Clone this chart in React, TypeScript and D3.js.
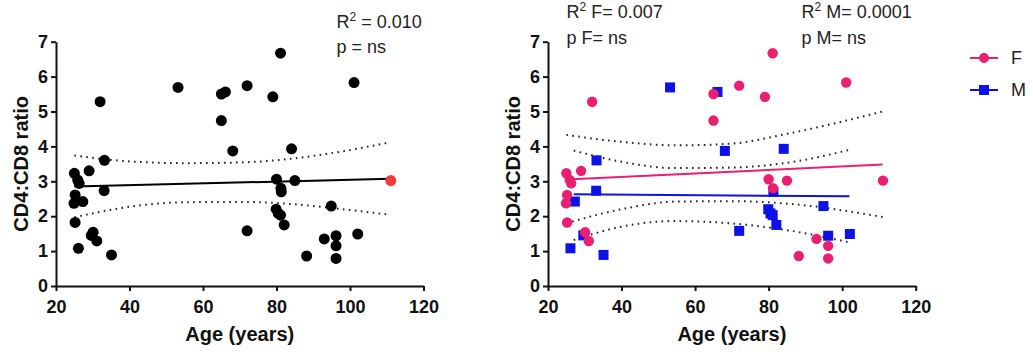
import React, { useEffect, useRef } from "react";
import * as d3 from "d3";

// [age, CD4:CD8 ratio]
const female: [number, number][] = [
  [25, 3.23], [25.9, 3.04], [26.3, 2.94], [25.2, 2.61], [24.9, 2.37], [25.2, 1.82],
  [29, 3.3], [32, 5.28], [30.1, 1.54], [31.1, 1.29], [65, 5.5], [65, 4.74],
  [72, 5.74], [79, 5.42], [81.1, 6.67], [80, 3.06], [81.2, 2.8], [85, 3.02],
  [88.2, 0.86], [93, 1.35], [96.2, 1.15], [96.2, 0.79], [101.1, 5.83], [111.1, 3.02],
];
const male: [number, number][] = [
  [27.3, 2.42], [26.1, 1.08], [33.2, 3.6], [33.1, 2.73], [35.1, 0.89], [29.6, 1.45],
  [53.2, 5.69], [66.1, 5.56], [68.1, 3.87], [72, 1.58], [79.9, 2.2], [80.5, 2.08],
  [81.1, 2.03], [81.3, 2.7], [82.1, 1.75], [84.1, 3.93], [94.9, 2.29], [96.2, 1.44],
  [102.1, 1.49],
];
const oldestAge = 111.1;

// fitted lines and 95% bands, read as points
const allFit: [number, number][] = [[25, 2.85], [111, 3.07]];
const allUpper: [number, number][] = [[25, 3.74], [40, 3.57], [55, 3.52], [70, 3.54], [85, 3.66], [98, 3.86], [111, 4.12]];
const allLower: [number, number][] = [[25, 1.97], [40, 2.27], [55, 2.4], [70, 2.41], [85, 2.34], [98, 2.2], [111, 2.04]];

const femaleFit: [number, number][] = [[25, 3.05], [111, 3.48]];
const femaleUpper: [number, number][] = [[25, 4.33], [40, 4.13], [55, 4.03], [70, 4.08], [85, 4.36], [111, 5.0]];
const femaleLower: [number, number][] = [[25, 1.8], [40, 2.2], [55, 2.42], [70, 2.43], [85, 2.36], [111, 1.98]];

const maleFit: [number, number][] = [[27, 2.63], [102, 2.57]];
const maleUpper: [number, number][] = [[27, 3.88], [40, 3.56], [54, 3.38], [68, 3.39], [85, 3.53], [102, 3.9]];
const maleLower: [number, number][] = [[27, 1.32], [40, 1.7], [54, 1.86], [68, 1.81], [85, 1.6], [102, 1.25]];

const xTicks = [20, 40, 60, 80, 100, 120];
const yTicks = [0, 1, 2, 3, 4, 5, 6, 7];

const FONT = "'Liberation Sans', Arial, sans-serif";
const PINK = "#EA1F6F";
const BLUE = "#0E10E8";
const RED = "#F23A3A";

const width = 1033;
const height = 355;
const yTop = 41.7;
const yBottom = 286;

function drawPanel(svg, x0: number, x1: number) {
  const x = d3.scaleLinear().domain([20, 120]).range([x0, x1]);
  const y = d3.scaleLinear().domain([0, 7]).range([yBottom, yTop]);

  svg
    .append("g")
    .attr("transform", `translate(0,${yBottom})`)
    .call(d3.axisBottom(x).tickValues(xTicks).tickSize(5).tickSizeOuter(0).tickPadding(9))
    .call((g) => g.selectAll("path,line").attr("stroke", "#111").attr("stroke-width", 2))
    .selectAll("text")
    .attr("fill", "#111")
    .style("font-family", FONT)
    .style("font-size", "18px")
    .style("font-weight", "bold");

  svg
    .append("g")
    .attr("transform", `translate(${x0},0)`)
    .call(
      d3
        .axisLeft(y)
        .tickValues(yTicks)
        .tickFormat(d3.format("d"))
        .tickSize(5)
        .tickSizeOuter(0)
        .tickPadding(3),
    )
    .call((g) => g.selectAll("path,line").attr("stroke", "#111").attr("stroke-width", 2))
    .selectAll("text")
    .attr("fill", "#111")
    .style("font-family", FONT)
    .style("font-size", "18px")
    .style("font-weight", "bold");

  svg
    .append("text")
    .attr("x", (x0 + x1) / 2)
    .attr("y", 341)
    .attr("text-anchor", "middle")
    .attr("fill", "#111")
    .style("font-family", FONT)
    .style("font-size", "20px")
    .style("font-weight", "bold")
    .text("Age (years)");

  svg
    .append("text")
    .attr("transform", `translate(${x0 - 28},${(yTop + yBottom) / 2}) rotate(-90)`)
    .attr("text-anchor", "middle")
    .attr("fill", "#111")
    .style("font-family", FONT)
    .style("font-size", "20px")
    .style("font-weight", "bold")
    .text("CD4:CD8 ratio");

  return { x, y };
}

function annotation(svg, xPos: number, yPos: number, pre: string, rest: string) {
  const t = svg
    .append("text")
    .attr("x", xPos)
    .attr("y", yPos)
    .attr("fill", "#222")
    .style("font-family", FONT)
    .style("font-size", "18px");
  t.append("tspan").text(pre);
  t.append("tspan").attr("dy", -7).style("font-size", "12px").text("2");
  t.append("tspan").attr("dy", 7).text(rest);
}

function plainText(svg, xPos: number, yPos: number, s: string) {
  svg
    .append("text")
    .attr("x", xPos)
    .attr("y", yPos)
    .attr("fill", "#222")
    .style("font-family", FONT)
    .style("font-size", "18px")
    .text(s);
}

const App = () => {
  const svgRef = useRef(null);

  useEffect(() => {
    if (!svgRef.current) return;
    const svg = d3.select(svgRef.current);
    svg.selectAll("*").remove();

    const dotted = (g, pts, x, y) =>
      g
        .append("path")
        .datum(pts)
        .attr("fill", "none")
        .attr("stroke", "#222")
        .attr("stroke-width", 2)
        .attr("stroke-dasharray", "1.6,4.4")
        .attr(
          "d",
          d3
            .line()
            .x((d) => x(d[0]))
            .y((d) => y(d[1]))
            .curve(d3.curveMonotoneX),
        );

    const solid = (g, pts, x, y, color) =>
      g
        .append("path")
        .datum(pts)
        .attr("fill", "none")
        .attr("stroke", color)
        .attr("stroke-width", 2)
        .attr(
          "d",
          d3
            .line()
            .x((d) => x(d[0]))
            .y((d) => y(d[1])),
        );

    // left panel: everyone
    const L = drawPanel(svg, 56, 423.5);
    const all = [...female, ...male];
    dotted(svg, allUpper, L.x, L.y);
    dotted(svg, allLower, L.x, L.y);
    svg
      .append("g")
      .selectAll("circle")
      .data(all.filter((d) => d[0] !== oldestAge))
      .join("circle")
      .attr("cx", (d) => L.x(d[0]))
      .attr("cy", (d) => L.y(d[1]))
      .attr("r", 5.5)
      .attr("fill", "#000");
    solid(svg, allFit, L.x, L.y, "#000");
    svg
      .append("g")
      .selectAll("circle")
      .data(all.filter((d) => d[0] === oldestAge))
      .join("circle")
      .attr("cx", (d) => L.x(d[0]))
      .attr("cy", (d) => L.y(d[1]))
      .attr("r", 5.5)
      .attr("fill", RED);

    annotation(svg, 336.5, 28, "R", " = 0.010");
    plainText(svg, 336.5, 53, "p = ns");

    // right panel: by sex
    const R = drawPanel(svg, 548, 915.7);
    dotted(svg, femaleUpper, R.x, R.y);
    dotted(svg, femaleLower, R.x, R.y);
    dotted(svg, maleUpper, R.x, R.y);
    dotted(svg, maleLower, R.x, R.y);

    svg
      .append("g")
      .selectAll("rect")
      .data(male)
      .join("rect")
      .attr("x", (d) => R.x(d[0]) - 5)
      .attr("y", (d) => R.y(d[1]) - 5)
      .attr("width", 10)
      .attr("height", 10)
      .attr("fill", BLUE);
    svg
      .append("g")
      .selectAll("circle")
      .data(female)
      .join("circle")
      .attr("cx", (d) => R.x(d[0]))
      .attr("cy", (d) => R.y(d[1]))
      .attr("r", 5.2)
      .attr("fill", PINK);
    solid(svg, femaleFit, R.x, R.y, PINK);
    solid(svg, maleFit, R.x, R.y, BLUE);

    annotation(svg, 566.5, 18, "R", " F= 0.007");
    plainText(svg, 566.5, 44, "p F= ns");
    annotation(svg, 801.5, 18, "R", " M= 0.0001");
    plainText(svg, 801.5, 44, "p M= ns");

    // legend
    const legend = svg.append("g");
    const items = [
      { label: "F", color: PINK, shape: "circle", cy: 58 },
      { label: "M", color: BLUE, shape: "square", cy: 90 },
    ];
    items.forEach((it) => {
      legend
        .append("line")
        .attr("x1", 970)
        .attr("x2", 998)
        .attr("y1", it.cy)
        .attr("y2", it.cy)
        .attr("stroke", it.color)
        .attr("stroke-width", 2);
      if (it.shape === "circle") {
        legend.append("circle").attr("cx", 984).attr("cy", it.cy).attr("r", 5).attr("fill", it.color);
      } else {
        legend
          .append("rect")
          .attr("x", 979)
          .attr("y", it.cy - 5)
          .attr("width", 10)
          .attr("height", 10)
          .attr("fill", it.color);
      }
      legend
        .append("text")
        .attr("x", 1011)
        .attr("y", it.cy + 6)
        .attr("fill", "#222")
        .style("font-family", FONT)
        .style("font-size", "18px")
        .text(it.label);
    });
  }, []);

  return (
    <svg
      ref={svgRef}
      width={width}
      height={height}
      style={{ position: "absolute", left: 0, top: 0, background: "#fff" }}
    ></svg>
  );
};

export default App;
